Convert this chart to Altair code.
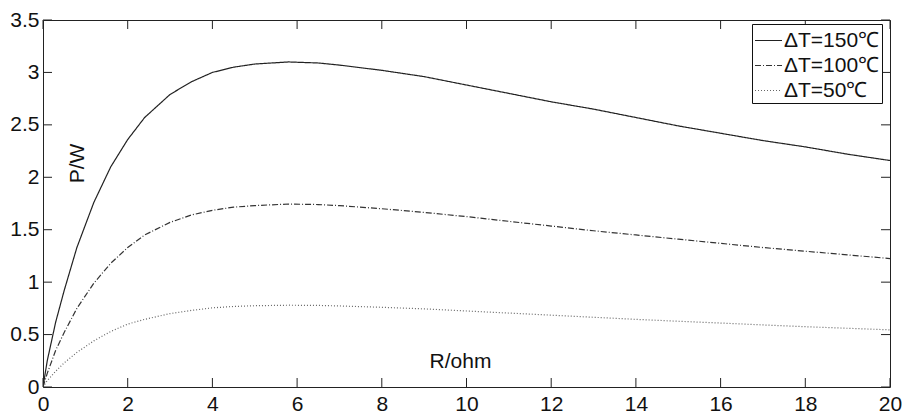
import altair as alt
import pandas as pd

# ---- data ----
R = [0, 0.1, 0.3, 0.5, 0.8, 1.2, 1.6, 2, 2.4, 3,
     3.5, 4, 4.5, 5, 5.8, 6.5, 7, 8, 9, 10,
     11, 12, 13, 14, 15, 16, 17, 18, 19, 20]
p150 = [0, 0.25, 0.62, 0.92, 1.33, 1.76, 2.10, 2.36, 2.57, 2.79,
        2.91, 3.00, 3.05, 3.08, 3.10, 3.09, 3.07, 3.02, 2.96, 2.88,
        2.80, 2.72, 2.65, 2.57, 2.49, 2.42, 2.35, 2.29, 2.22, 2.16]
p100 = [0, 0.13, 0.35, 0.52, 0.75, 0.99, 1.18, 1.33, 1.45, 1.57,
        1.64, 1.685, 1.715, 1.73, 1.745, 1.74, 1.73, 1.70, 1.665, 1.625,
        1.58, 1.535, 1.49, 1.45, 1.41, 1.37, 1.33, 1.295, 1.26, 1.225]
p50 = [0, 0.06, 0.15, 0.23, 0.33, 0.44, 0.53, 0.60, 0.645, 0.70,
       0.73, 0.755, 0.768, 0.775, 0.78, 0.778, 0.773, 0.76, 0.745, 0.725,
       0.705, 0.685, 0.665, 0.645, 0.627, 0.61, 0.592, 0.575, 0.56, 0.545]
series = ["ΔT=150℃", "ΔT=100℃", "ΔT=50℃"]
x_ticks = [0, 2, 4, 6, 8, 10, 12, 14, 16, 18, 20]
y_ticks = [0, 0.5, 1, 1.5, 2, 2.5, 3, 3.5]

rows = []
for name, vals in zip(series, [p150, p100, p50]):
    for r, p in zip(R, vals):
        rows.append({"R": r, "P": p, "s": name})
df = pd.DataFrame(rows)
xt = pd.DataFrame({"t": x_ticks})
yt = pd.DataFrame({"t": y_ticks})

W, H = 847, 367
FONT = "Liberation Sans, Arial, sans-serif"
TL = 9

xs = alt.Scale(domain=[0, 20], nice=False, zero=False)
ys = alt.Scale(domain=[0, 3.5], nice=False, zero=False)

leg = dict(title=None, orient="none", legendX=709, legendY=4,
           symbolType="stroke", symbolSize=729, symbolStrokeWidth=1.2,
           labelFont=FONT, labelFontSize=21, labelColor="#111111",
           labelOffset=1, padding=2, rowPadding=0,
           strokeColor="#111111", fillColor="white", labelLimit=300)

lines = alt.Chart(df).mark_line(strokeWidth=1.2, clip=True).encode(
    x=alt.X("R:Q", scale=xs, axis=alt.Axis(
        values=x_ticks, title="R/ohm", titleX=417, titleY=-20,
        titleAlign="center", titleBaseline="alphabetic",
        labelPadding=6, format="~g")),
    y=alt.Y("P:Q", scale=ys, axis=alt.Axis(
        values=y_ticks, title="P/W", titleX=40, titleY=143, titleAngle=270,
        titleAlign="center", titleBaseline="alphabetic",
        labelPadding=4, format="~g")),
    color=alt.Color("s:N", scale=alt.Scale(domain=series, range=["#222222", "#333333", "#666666"]),
                    legend=alt.Legend(**leg)),
    strokeDash=alt.StrokeDash("s:N", scale=alt.Scale(domain=series, range=[[1, 0], [6, 2, 1, 2], [1, 2]]),
                              legend=alt.Legend(**leg)),
    order=alt.Order("R:Q"),
)

tick_color = "#222222"
bottom = alt.Chart(xt).mark_rule(color=tick_color, strokeWidth=1).encode(
    x=alt.X("t:Q", scale=xs, title="R/ohm"), y=alt.value(H), y2=alt.value(H - TL))
top = alt.Chart(xt).mark_rule(color=tick_color, strokeWidth=1).encode(
    x=alt.X("t:Q", scale=xs, title="R/ohm"), y=alt.value(0), y2=alt.value(TL))
left = alt.Chart(yt).mark_rule(color=tick_color, strokeWidth=1).encode(
    y=alt.Y("t:Q", scale=ys, title="P/W"), x=alt.value(0), x2=alt.value(TL))
right = alt.Chart(yt).mark_rule(color=tick_color, strokeWidth=1).encode(
    y=alt.Y("t:Q", scale=ys, title="P/W"), x=alt.value(W), x2=alt.value(W - TL))

chart = alt.layer(lines, bottom, top, left, right).properties(
    width=W, height=H,
    autosize=alt.AutoSizeParams(type="none"),
    padding={"left": 43, "top": 20, "right": 14, "bottom": 27},
    background="white",
).configure_view(
    stroke="#222222", strokeWidth=1
).configure_axis(
    domain=False, grid=False, ticks=False, tickSize=0,
    labelFont=FONT, labelFontSize=21, labelColor="#111111",
    titleFont=FONT, titleFontSize=21, titleFontWeight="normal", titleColor="#111111",
    labelOverlap=False, labelFlush=False, labelBound=False,
)

chart.save("out.html", embed_options={"renderer": "svg", "actions": False})
